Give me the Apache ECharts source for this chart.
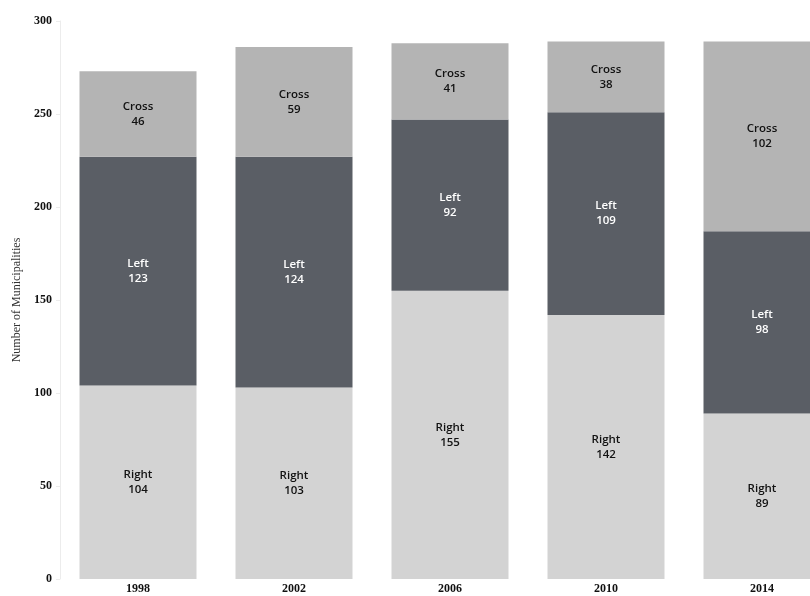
<!DOCTYPE html>
<html>
<head>
<meta charset="utf-8">
<script src="https://cdn.jsdelivr.net/npm/echarts@6/dist/echarts.min.js"></script>
<style>
  html, body { margin: 0; padding: 0; background: #ffffff; }
  #chart { width: 810px; height: 596px; }
</style>
</head>
<body>
<div id="chart"></div>
<script>
// Election years and municipality counts by governing coalition type
const years = ['1998', '2002', '2006', '2010', '2014'];
const rightCounts = [104, 103, 155, 142, 89];
const leftCounts = [123, 124, 92, 109, 98];
const crossCounts = [46, 59, 41, 38, 102];
const yTicks = [0, 50, 100, 150, 200, 250, 300];

const chart = echarts.init(document.getElementById('chart'));

function segment(name, values, color, textColor) {
  return {
    name: name,
    type: 'bar',
    stack: 'total',
    data: values,
    barWidth: 117,
    itemStyle: { color: color },
    label: {
      show: true,
      position: 'inside',
      formatter: (p) => name + '\n' + p.value,
      color: textColor,
      fontFamily: 'Open Sans',
      fontSize: 11.5,
      fontWeight: 600,
      lineHeight: 15
    }
  };
}

chart.setOption({
  animation: false,
  grid: {
    left: 60, top: 21, width: 780, bottom: 17,
    containLabel: false,
    outerBoundsMode: 'none'
  },
  xAxis: {
    type: 'category',
    data: years,
    axisLine: { show: false },
    axisTick: { show: false },
    axisLabel: {
      margin: 4,
      color: '#111',
      fontFamily: 'Liberation Serif',
      fontWeight: 'bold',
      fontSize: 12
    }
  },
  yAxis: {
    type: 'value',
    min: yTicks[0],
    max: yTicks[yTicks.length - 1],
    interval: 50,
    name: 'Number of Municipalities',
    nameLocation: 'middle',
    nameGap: 37,
    nameTextStyle: { fontFamily: 'Liberation Serif', fontSize: 12, color: '#333' },
    axisLine: { show: true, lineStyle: { color: '#ececec', width: 1 } },
    axisTick: { show: true, length: 4, lineStyle: { color: '#ececec' } },
    splitLine: { show: false },
    axisLabel: {
      margin: 8,
      color: '#111',
      fontFamily: 'Liberation Serif',
      fontWeight: 'bold',
      fontSize: 12
    }
  },
  series: [
    segment('Right', rightCounts, '#d3d3d3', '#111111'),
    segment('Left', leftCounts, '#5a5e65', '#ffffff'),
    segment('Cross', crossCounts, '#b4b4b4', '#111111')
  ]
});
</script>
</body>
</html>
